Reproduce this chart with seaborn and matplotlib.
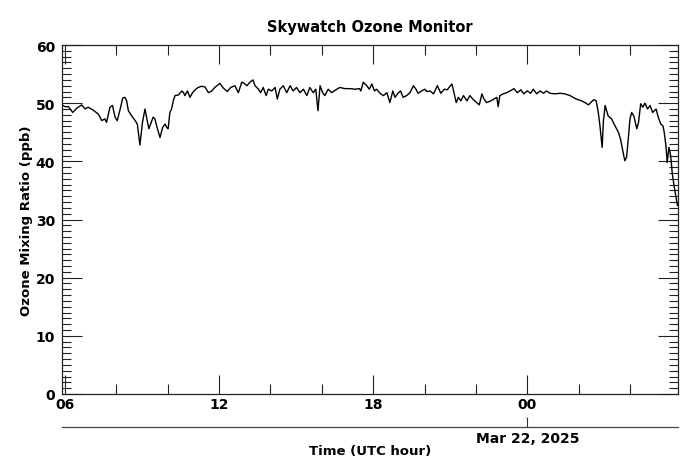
import numpy as np
import pandas as pd
import matplotlib
matplotlib.use("Agg")
import matplotlib.pyplot as plt
import seaborn as sns

# Minutes since 06:00 UTC, Mar 21 2025
minutes = [-7, 0, 8, 18, 27, 39, 47, 54, 66, 78, 86, 93, 97, 105, 111, 117, 122, 128,
           135, 140, 144, 148, 156, 164, 169, 175, 181, 187, 192, 196, 203, 206, 210,
           216, 222, 228, 234, 238, 241, 245, 249, 253, 257, 265, 273, 277, 280, 286,
           292, 298, 304, 311, 319, 327, 335, 343, 350, 362, 370, 379, 387, 397, 405,
           413, 417, 425, 432, 439, 444, 452, 457, 463, 470, 475, 483, 491, 496, 502,
           510, 518, 526, 533, 541, 549, 557, 565, 572, 580, 586, 591, 596, 602, 607,
           615, 623, 635, 642, 654, 666, 678, 688, 691, 697, 705, 711, 717, 723, 728,
           736, 744, 752, 759, 766, 771, 779, 784, 790, 798, 806, 814, 820, 825, 833,
           841, 845, 853, 861, 870, 878, 886, 893, 904, 907, 914, 919, 925, 931, 939,
           946, 954, 962, 968, 974, 979, 985, 995, 1002, 1009, 1012, 1016, 1024, 1032,
           1040, 1049, 1057, 1065, 1072, 1080, 1088, 1094, 1102, 1110, 1118, 1125,
           1133, 1145, 1157, 1168, 1180, 1192, 1199, 1207, 1215, 1223, 1231, 1236,
           1241, 1246, 1250, 1255, 1258, 1262, 1269, 1277, 1285, 1293, 1298, 1304,
           1308, 1312, 1316, 1320, 1324, 1329, 1336, 1340, 1345, 1350, 1355, 1361,
           1367, 1373, 1381, 1386, 1392, 1397, 1400, 1404, 1407, 1411, 1415, 1419,
           1423, 1427, 1431]
ozone_ppb = [49.7, 49.4, 49.4, 48.4, 49.1, 49.7, 49.0, 49.3, 48.8, 48.1, 47.0, 47.3, 46.7,
             49.3, 49.6, 47.6, 47.0, 48.7, 50.9, 51.0, 50.4, 48.7, 47.8, 47.0, 46.4, 42.8,
             46.7, 49.0, 47.0, 45.6, 47.0, 47.6, 47.3, 45.6, 44.1, 45.8, 46.4, 45.8, 45.6,
             48.4, 49.0, 50.4, 51.3, 51.4, 52.1, 51.8, 51.3, 52.1, 51.0, 51.8, 52.3, 52.7,
             52.9, 52.8, 51.8, 52.1, 52.7, 53.4, 52.6, 52.0, 52.7, 53.0, 51.8, 53.6, 53.5,
             53.0, 53.6, 54.0, 53.0, 52.4, 51.8, 52.7, 51.3, 52.4, 52.1, 52.7, 50.7, 52.4,
             53.0, 51.8, 53.0, 52.1, 52.7, 51.8, 52.4, 51.3, 52.7, 51.8, 52.4, 48.7, 53.0,
             51.8, 51.3, 52.4, 51.8, 52.4, 52.7, 52.5, 52.5, 52.4, 52.5, 52.1, 53.6, 53.0,
             52.4, 53.3, 52.1, 52.4, 51.7, 51.3, 51.8, 50.1, 52.1, 51.0, 51.8, 52.1, 51.0,
             51.3, 51.8, 53.0, 52.4, 51.7, 52.1, 52.4, 52.0, 52.1, 51.6, 53.0, 51.7, 52.4,
             52.3, 53.3, 52.4, 50.1, 51.0, 50.4, 51.3, 50.4, 51.3, 50.6, 50.1, 49.7, 51.6,
             50.7, 50.1, 50.4, 50.7, 51.0, 49.4, 51.3, 51.6, 51.8, 52.1, 52.5, 51.8, 52.3,
             51.6, 52.1, 51.7, 52.4, 51.6, 52.1, 51.7, 52.1, 51.7, 51.6, 51.7, 51.6, 51.3,
             50.8, 50.6, 50.4, 50.1, 49.7, 50.3, 50.6, 50.4, 48.4, 46.0, 42.4, 47.0, 49.6,
             47.8, 47.3, 46.1, 45.0, 43.8, 41.5, 40.1, 40.7, 43.8, 47.3, 48.4, 47.8, 45.6,
             46.7, 49.9, 49.3, 50.0, 49.0, 49.6, 48.4, 49.0, 47.6, 46.4, 46.1, 45.0, 42.7,
             39.8, 42.4, 41.0, 37.8, 35.8, 34.1, 32.4]

hour_ticks = [0, 360, 720, 1080]
hour_labels = ["06", "12", "18", "00"]
date_tick = [1080]
date_label = ["Mar 22, 2025"]
y_ticks = [0, 10, 20, 30, 40, 50, 60]

sns.set_style("ticks")
plt.rcParams['font.family'] = ['DejaVu Sans']
plt.rcParams['text.color'] = 'black'
plt.rcParams['axes.labelcolor'] = 'black'
plt.rcParams['xtick.color'] = 'black'
plt.rcParams['ytick.color'] = 'black'

fig = plt.figure(figsize=(6.99, 4.77), dpi=100)
ax = fig.add_axes([62 / 699, 1 - 395 / 477, (677.7 - 62) / 699, (395 - 46) / 477])

df = pd.DataFrame({"minutes": minutes, "ozone": ozone_ppb})
sns.lineplot(data=df, x="minutes", y="ozone", ax=ax, color="black", linewidth=1.0)

ax.set_xlim(-7, 1431.5)
ax.set_ylim(0, 60)

ax.set_xticks(hour_ticks)
ax.set_xticklabels(hour_labels)
minor_x = [m for m in range(120, 1431, 120) if m not in hour_ticks]
ax.set_xticks(minor_x, minor=True)
ax.set_yticks(y_ticks)
ax.set_yticks(list(range(0, 61)), minor=True)

ax.tick_params(which='both', direction='in', top=True, right=True, width=0.8,
               color='#222222', labelcolor='black')
ax.tick_params(axis='x', which='major', length=13.7, pad=2.5, labelsize=10)
ax.tick_params(axis='x', which='minor', length=7.2)
ax.tick_params(axis='y', which='major', length=14.4, pad=5, labelsize=10)
ax.tick_params(axis='y', which='minor', length=6.5)
for lbl in ax.get_xticklabels() + ax.get_yticklabels():
    lbl.set_fontweight('bold')

for sp in ax.spines.values():
    sp.set_visible(True)
    sp.set_linewidth(0.9)
    sp.set_color('#222222')

ax.set_xlabel("")
ax.set_ylabel("Ozone Mixing Ratio (ppb)", fontweight='bold', fontsize=9.5, labelpad=2,
              color='black')
ax.set_title("Skywatch Ozone Monitor", fontweight='bold', fontsize=10.5, pad=10,
             color='black')

sec = ax.secondary_xaxis((395 - 428) / 349)
sec.set_xticks(date_tick)
sec.set_xticklabels(date_label)
sec.tick_params(direction='in', length=7.2, pad=3, width=0.8, labelsize=10,
                color='#333333', labelcolor='black')
for lbl in sec.get_xticklabels():
    lbl.set_fontweight('bold')
sec.spines['bottom'].set_color('#444444')
sec.spines['bottom'].set_linewidth(0.9)
sec.set_xlabel("Time (UTC hour)", fontweight='bold', fontsize=9.5, labelpad=-0.5,
               color='black')

fig.savefig("out.png", dpi=100)
